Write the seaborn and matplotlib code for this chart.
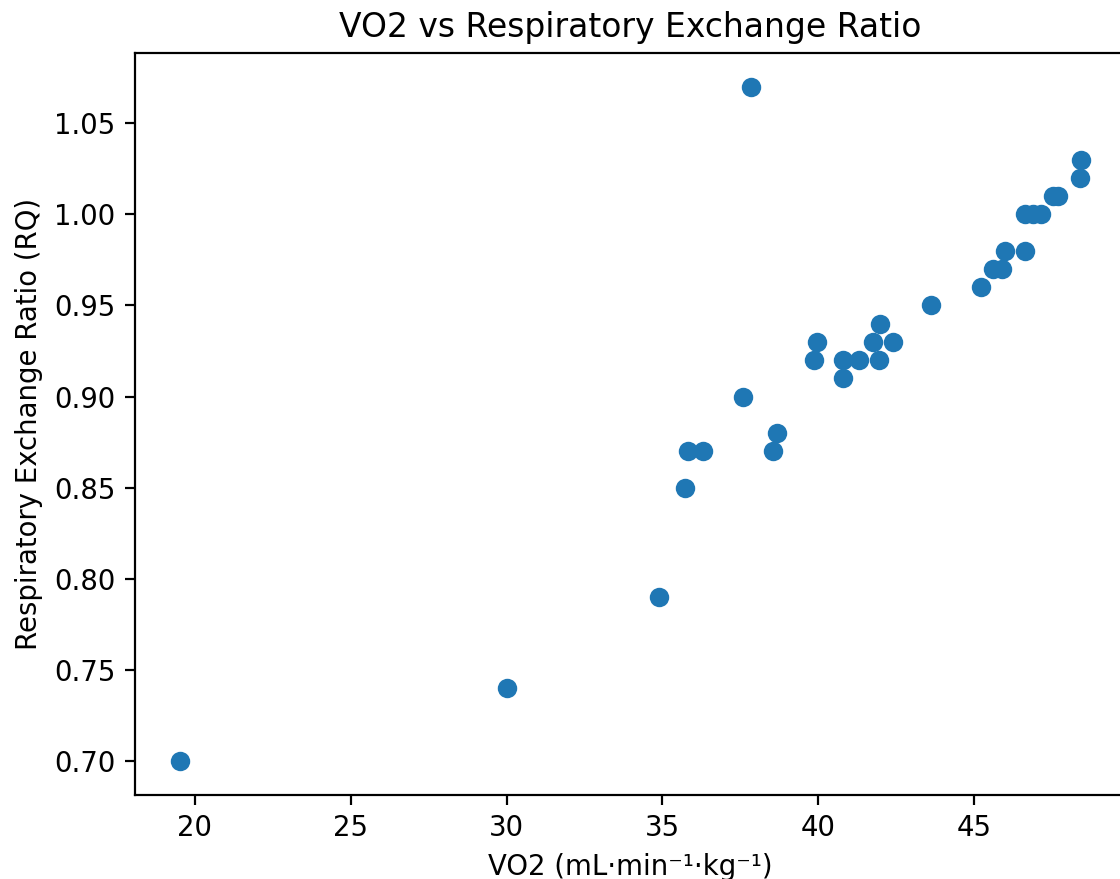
#!/usr/bin/env python3

import seaborn as sns
import matplotlib.pyplot as plt
import pandas as pd

# values
vo2 = [19.52, 30.0, 34.9, 35.73, 35.83, 36.3, 37.6, 37.85, 38.55, 38.68,
       39.87, 39.97, 40.8, 40.8, 41.32, 41.77, 41.99, 41.96, 42.4, 43.63,
       45.23, 45.6, 45.9, 46.0, 46.65, 46.65, 46.9, 47.16, 47.55, 47.7,
       48.4, 48.44]
rq = [0.70, 0.74, 0.79, 0.85, 0.87, 0.87, 0.90, 1.07, 0.87, 0.88,
      0.92, 0.93, 0.91, 0.92, 0.92, 0.93, 0.94, 0.92, 0.93, 0.95,
      0.96, 0.97, 0.97, 0.98, 0.98, 1.00, 1.00, 1.00, 1.01, 1.01,
      1.02, 1.03]

data = pd.DataFrame({"VO2": vo2, "RQ": rq})

dpi = 198
fig = plt.figure(figsize=(1120 / dpi, 879 / dpi), dpi=dpi)
ax = fig.add_axes([0.1205, 0.0956, 0.885, 0.8441])

sns.scatterplot(data=data, x="VO2", y="RQ", ax=ax, color="#1f77b4", s=50, linewidth=0)

ax.set_title("VO2 vs Respiratory Exchange Ratio", fontsize=12)
ax.set_xlabel("VO2 (mL\u00b7min\u207b\u00b9\u00b7kg\u207b\u00b9)")
ax.set_ylabel("Respiratory Exchange Ratio (RQ)")

plt.savefig("out.png", dpi=dpi)
